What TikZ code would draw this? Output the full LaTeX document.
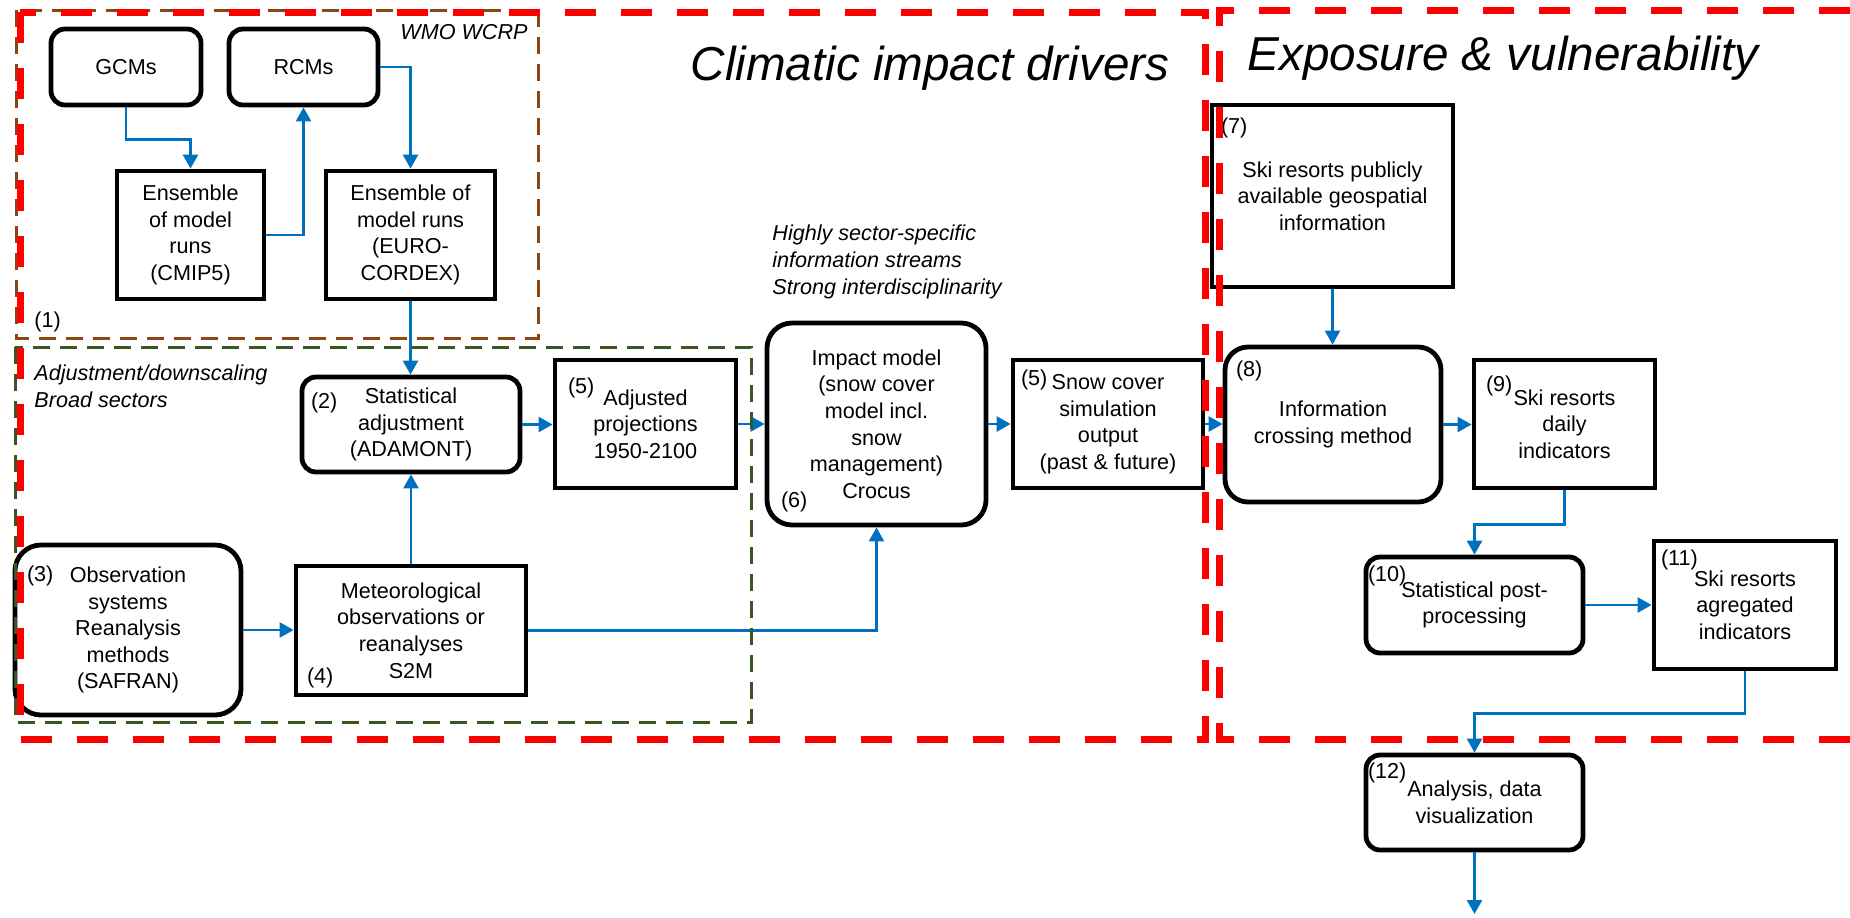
\documentclass[tikz,border=0pt]{standalone}
\usepackage{fontspec}
\setmainfont{Liberation Sans}
\usetikzlibrary{arrows.meta,calc}
\definecolor{flowblue}{RGB}{0,112,192}
\definecolor{wmobrown}{RGB}{140,70,20}
\definecolor{adjgreen}{RGB}{56,87,35}
\newcommand\boxfont{\fontsize{10.8}{13.3}\selectfont}
\newcommand\titlefont{\fontsize{23.8}{28}\selectfont\itshape}

\begin{document}
\begin{tikzpicture}[x=0.5pt, y=-0.5pt,
    box/.style={draw, line width=2.4pt, align=center, inner sep=0pt, font=\boxfont},
    rbox/.style={box, rounded corners=7pt},
    bigrbox/.style={box, rounded corners=12.5pt},
    num/.style={anchor=west, inner sep=0pt, font=\boxfont},
    note/.style={align=left, inner sep=0pt, font=\boxfont\itshape},
    flow/.style={draw=flowblue, line width=1.3pt, -{Triangle[length=7pt,width=7.5pt]}},
    redframe/.style={draw=red, line width=3.5pt, dash pattern=on 15.5pt off 12.5pt},
    brownframe/.style={draw=wmobrown, line width=1.5pt, dash pattern=on 8.5pt off 5pt},
    greenframe/.style={draw=adjgreen, line width=1.5pt, dash pattern=on 8.5pt off 5pt}]
    \useasboundingbox (0,0) rectangle (1850,917);

    % climate models
    \node[rbox, minimum width=75pt, minimum height=38pt] (gcm) at (126,67) {GCMs};
    \node[rbox, minimum width=74.5pt, minimum height=38pt] (rcm) at (303.5,67) {RCMs};
    \node[box, minimum width=73.5pt, minimum height=64pt] (cmip) at (190.5,235) {Ensemble\\of model\\runs\\(CMIP5)};
    \node[box, minimum width=84.5pt, minimum height=64pt] (euro) at (410.5,235) {Ensemble of\\model runs\\(EURO-\\CORDEX)};
    \node[note, anchor=east] (wmo) at (528,32) {WMO WCRP};
    \node[num] (n1) at (34,322) {(1)};

    % adjustment and impact model
    \node[rbox, minimum width=109pt, minimum height=47.5pt] (stat) at (411,424.5) {Statistical\\adjustment\\(ADAMONT)};
    \node[box, minimum width=90.5pt, minimum height=64pt] (adj) at (645.5,424) {Adjusted\\projections\\1950-2100};
    \node[bigrbox, minimum width=109.5pt, minimum height=101pt] (impact) at (876.5,424) {Impact model\\(snow cover\\model incl.\\snow\\management)\\Crocus};
    \node[box, minimum width=95pt, minimum height=64pt] (snow) at (1108,424) {Snow cover\\simulation\\output\\(past \& future)};
    \node[bigrbox, rounded corners=13pt, minimum width=113pt, minimum height=85pt] (obs) at (128,630) {Observation\\systems\\Reanalysis\\methods\\(SAFRAN)};
    \node[box, minimum width=115pt, minimum height=64.5pt] (met) at (411,630.5) {Meteorological\\observations or\\reanalyses\\S2M};
    \node[note, anchor=west] (adjnote) at (34,386.5) {Adjustment/downscaling\\Broad sectors};
    \node[note, anchor=west] (impnote) at (772,262) {Highly sector-specific\\information streams\\Strong interdisciplinarity};

    \node[num] (n2) at ($(stat.north west)+(11,28)$) {(2)};
    \node[num] (n5a) at ($(adj.north west)+(15,30)$) {(5)};
    \node[num] (n6) at ($(impact.south west)+(16,-26)$) {(6)};
    \node[num] (n5b) at ($(snow.north west)+(10,22)$) {(5)};
    \node[num] (n3) at ($(obs.north west)+(14,33)$) {(3)};
    \node[num] (n4) at ($(met.south west)+(13,-20)$) {(4)};

    % exposure side
    \node[box, minimum width=120.5pt, minimum height=91pt] (geo) at (1332.5,196) {Ski resorts publicly\\available geospatial\\information};
    \node[bigrbox, rounded corners=11.5pt, minimum width=108pt, minimum height=77.5pt] (cross) at (1333,424.5) {Information\\crossing method};
    \node[box, minimum width=90.5pt, minimum height=64pt] (daily) at (1564.5,424) {Ski resorts\\daily\\indicators};
    \node[rbox, minimum width=108.5pt, minimum height=48pt] (post) at (1474.5,605) {Statistical post-\\processing};
    \node[box, minimum width=91pt, minimum height=64pt] (agg) at (1745,605) {Ski resorts\\agregated\\indicators};
    \node[rbox, minimum width=108.5pt, minimum height=47.5pt] (viz) at (1474.5,802.5) {Analysis, data\\visualization};
    \coordinate (out) at (1474.5,914);

    \node[num] (n7) at ($(geo.north west)+(11,25)$) {(7)};
    \node[num] (n8) at ($(cross.north west)+(13,26)$) {(8)};
    \node[num] (n9) at ($(daily.north west)+(14,28)$) {(9)};
    \node[num] (n10) at ($(post.north west)+(4,21)$) {(10)};
    \node[num] (n11) at ($(agg.north west)+(9,21)$) {(11)};
    \node[num] (n12) at ($(viz.north west)+(4,20)$) {(12)};

    \node[font=\titlefont, anchor=base] (cid) at (930,80) {Climatic impact drivers};
    \node[font=\titlefont, anchor=base] (ev) at (1503,70) {Exposure \& vulnerability};

    % connectors
    \draw[flow] (gcm.south) -- ++(0,32) -| (cmip.north);
    \draw[flow] (cmip.east) -| (rcm.south);
    \draw[flow] (rcm.east) -| (euro.north);
    \draw[flow] (euro.south) -- (euro.south |- stat.north);
    \draw[flow] (met.north) -- (met.north |- stat.south);
    \draw[flow] (stat.east) -- (stat.east -| adj.west);
    \draw[flow] (adj.east) -- (adj.east -| impact.west);
    \draw[flow] (obs.east) -- (obs.east -| met.west);
    \draw[flow] (met.east) -| (impact.south);
    \draw[flow] (impact.east) -- (impact.east -| snow.west);
    \draw[flow] (snow.east) -- (snow.east -| cross.west);
    \draw[flow] (geo.south) -- (geo.south |- cross.north);
    \draw[flow] (cross.east) -- (cross.east -| daily.west);
    \draw[flow] (daily.south) -- ++(0,34) -| (post.north);
    \draw[flow] (post.east) -- (post.east -| agg.west);
    \draw[flow] (agg.south) -- ++(0,42) -| (viz.north);
    \draw[flow] (viz.south) -- (out);

    % frames
    \draw[brownframe] (16,10) rectangle (538,338);
    \draw[greenframe] (15,347) rectangle (751,722);
    \draw[redframe] (20,12) rectangle (1205,739);
    \draw[redframe] (1850,10) -- (1219,10) -- (1219,739) -- (1850,739);
\end{tikzpicture}
\end{document}
